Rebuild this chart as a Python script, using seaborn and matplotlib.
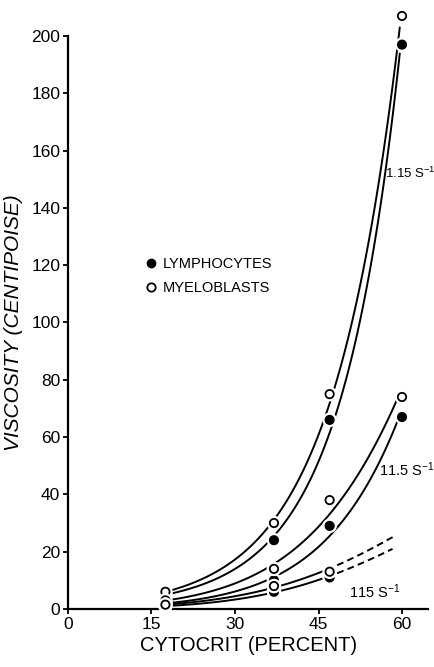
"""Viscosity of lymphocyte and myeloblast suspensions vs cytocrit."""

import matplotlib
matplotlib.use("Agg")
import matplotlib.pyplot as plt
import matplotlib.patheffects as pe
from matplotlib.lines import Line2D
import numpy as np
import seaborn as sns

# cytocrit (percent) where viscosity was measured
cytocrit = [17.5, 37, 47, 60]
cytocrit_115 = [17.5, 37, 47]

# viscosity (centipoise) at each shear rate
lymph_1_15 = [5, 24, 66, 197]
myelo_1_15 = [6, 30, 75, 207]
lymph_11_5 = [2, 10, 29, 67]
myelo_11_5 = [3, 14, 38, 74]
lymph_115 = [1, 6, 11]
myelo_115 = [1.5, 8, 13]

# end of the dashed (extrapolated) part of the 115 s-1 curves
dash_end_x = 58.3
lymph_115_dash_end = 21.3
myelo_115_dash_end = 25.8

x_ticks = [0, 15, 30, 45, 60]
y_ticks = list(range(0, 201, 20))

sns.set_style("ticks", {"axes.edgecolor": "black", "text.color": "black",
                        "axes.labelcolor": "black", "xtick.color": "black",
                        "ytick.color": "black"})
plt.rcParams["font.family"] = ["Liberation Sans", "DejaVu Sans"]
plt.rcParams["mathtext.fontset"] = "custom"
plt.rcParams["mathtext.rm"] = "Liberation Sans"
plt.rcParams["mathtext.it"] = "Liberation Sans:italic"

fig = plt.figure(figsize=(4.35, 6.67), dpi=100)
ax = fig.add_axes([0.1563, 0.0870, 0.828, 0.859])


def fit_curve(x, y, x0, x1):
    # smooth exponential-like curve fitted through the measured points
    coef = np.polyfit(np.array(x, float), np.log(y), 2)
    xs = np.linspace(x0, x1, 120)
    return xs, np.exp(np.polyval(coef, xs))


def draw_curve(x, y, dash_x=None, dash_y=None):
    if dash_x is None:
        xs, ys = fit_curve(x, y, x[0], x[-1] - 0.4)
        sns.lineplot(x=xs, y=ys, ax=ax, color="black", lw=1.4,
                     sort=False, clip_on=False, zorder=2)
    else:
        fx = list(x) + [dash_x]
        fy = list(y) + [dash_y]
        xs, ys = fit_curve(fx, fy, fx[0], fx[-1])
        solid = xs <= x[-1]
        sns.lineplot(x=xs[solid], y=ys[solid], ax=ax, color="black", lw=1.4,
                     sort=False, clip_on=False, zorder=2)
        dashed = xs >= x[-1] + 1.2
        sns.lineplot(x=xs[dashed], y=ys[dashed], ax=ax, color="black", lw=1.4,
                     sort=False, clip_on=False, zorder=2,
                     linestyle=(0, (3.5, 2.2)))


def draw_points(x, y, filled):
    sns.scatterplot(x=x, y=y, ax=ax, s=36, marker="o",
                    color="black" if filled else "white",
                    edgecolor="black", linewidth=1.3, clip_on=False, zorder=4,
                    path_effects=[pe.withStroke(linewidth=4.5, foreground="white")])


draw_curve(cytocrit, lymph_1_15)
draw_curve(cytocrit, myelo_1_15)
draw_curve(cytocrit, lymph_11_5)
draw_curve(cytocrit, myelo_11_5)
draw_curve(cytocrit_115, lymph_115, dash_x=dash_end_x, dash_y=lymph_115_dash_end)
draw_curve(cytocrit_115, myelo_115, dash_x=dash_end_x, dash_y=myelo_115_dash_end)

for ys in (lymph_1_15, lymph_11_5):
    draw_points(cytocrit, ys, True)
for ys in (myelo_1_15, myelo_11_5):
    draw_points(cytocrit, ys, False)
draw_points(cytocrit_115, lymph_115, True)
draw_points(cytocrit_115, myelo_115, False)

# shear-rate labels
ax.text(57.0, 152, r"1.15 S$^{-1}$", fontsize=9.5, va="center")
ax.text(55.8, 48.5, r"11.5 S$^{-1}$", fontsize=10.5, va="center")
ax.text(50.5, 6.0, r"115 S$^{-1}$", fontsize=10.5, va="center")

# legend
handles = [
    Line2D([], [], ls="none", marker="o", ms=6, mfc="black", mec="black"),
    Line2D([], [], ls="none", marker="o", ms=6, mfc="white", mec="black", mew=1.3),
]
ax.legend(handles, ["LYMPHOCYTES", "MYELOBLASTS"], frameon=False,
          loc="center left", bbox_to_anchor=(0.218, 0.581), fontsize=10.5,
          handlelength=0.6, handletextpad=0.5, labelspacing=0.7,
          borderpad=0, borderaxespad=0)

ax.set_xlim(0, 64.7)
ax.set_ylim(0, 200)
ax.set_xticks(x_ticks)
ax.set_yticks(y_ticks)
ax.tick_params(direction="out", length=3.5, width=1.3, labelsize=12.5, pad=2)
for side in ("left", "bottom"):
    ax.spines[side].set_linewidth(1.6)
sns.despine(ax=ax)

ax.set_xlabel("CYTOCRIT (PERCENT)", fontsize=14.5, labelpad=3)
ax.set_ylabel("VISCOSITY (CENTIPOISE)", fontsize=15, style="italic", labelpad=6)

fig.savefig("out.png", dpi=100)
